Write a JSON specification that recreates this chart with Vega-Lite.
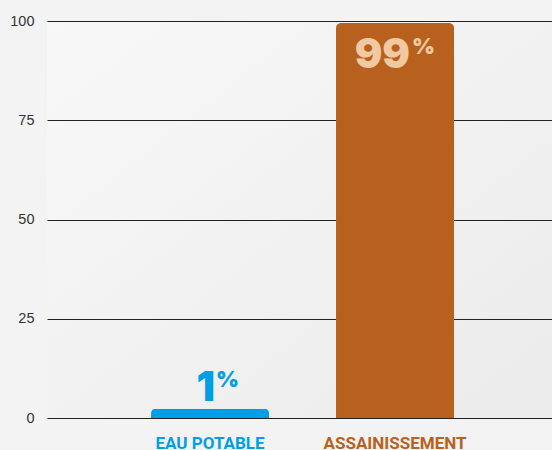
{
  "$schema": "https://vega.github.io/schema/vega-lite/v6.json",
  "width": 505,
  "height": 397,
  "autosize": {"type": "none"},
  "padding": {"left": 47, "top": 21, "right": 0, "bottom": 32},
  "background": "#f3f3f3",
  "config": {
    "view": {
      "stroke": null,
      "fill": {"gradient": "linear", "x1": 0, "y1": 0, "x2": 1, "y2": 1,
        "stops": [{"offset": 0, "color": "#f8f8f8"}, {"offset": 1, "color": "#ebebeb"}]}
    }
  },
  "data": {
    "values": [
      {"categorie": "EAU POTABLE", "valeur": 2.3, "nombre": "1"},
      {"categorie": "ASSAINISSEMENT", "valeur": 99.5, "nombre": "99"}
    ]
  },
  "encoding": {
    "x": {
      "field": "categorie", "type": "nominal", "sort": null,
      "scale": {"paddingInner": 0.362, "paddingOuter": 0.546, "align": 0.515},
      "axis": {
        "title": null, "labelAngle": 0, "ticks": false, "domain": false, "grid": false,
        "labelFont": "Roboto", "labelFontWeight": "bold", "labelFontSize": 17, "labelPadding": 17,
        "labelColor": {"condition": {"test": "datum.value == 'EAU POTABLE'", "value": "#009fe3"}, "value": "#b8611f"}
      }
    },
    "y": {
      "field": "valeur", "type": "quantitative",
      "scale": {"domain": [0, 100]},
      "axis": {
        "title": null, "values": [0, 25, 50, 75, 100], "grid": true, "gridColor": "#222222", "gridOpacity": 1,
        "domain": false, "ticks": false, "labelPadding": 13,
        "labelFont": "Liberation Sans", "labelFontSize": 14.5, "labelColor": "#333333"
      }
    }
  },
  "layer": [
    {
      "mark": {"type": "bar", "cornerRadiusTopLeft": 5, "cornerRadiusTopRight": 5},
      "encoding": {
        "color": {"field": "categorie", "type": "nominal",
          "scale": {"domain": ["EAU POTABLE", "ASSAINISSEMENT"], "range": ["#009fe3", "#b8611f"]},
          "legend": null}
      }
    },
    {
      "transform": [{"filter": "datum.categorie == 'EAU POTABLE'"}],
      "mark": {"type": "text", "align": "right", "baseline": "alphabetic", "dx": 5, "dy": -8,
        "font": "Inter", "fontWeight": 900, "fontSize": 41, "color": "#009fe3"},
      "encoding": {"text": {"field": "nombre"}}
    },
    {
      "transform": [{"filter": "datum.categorie == 'EAU POTABLE'"}],
      "mark": {"type": "text", "align": "left", "baseline": "alphabetic", "dx": 6, "dy": -22,
        "font": "Inter", "fontWeight": 900, "fontSize": 22, "color": "#009fe3"},
      "encoding": {"text": {"value": "%"}}
    },
    {
      "transform": [{"filter": "datum.categorie == 'ASSAINISSEMENT'"}],
      "mark": {"type": "text", "align": "right", "baseline": "alphabetic", "dx": 15, "dy": 45,
        "font": "Inter", "fontWeight": 900, "fontSize": 41, "color": "#f0c8a2"},
      "encoding": {"text": {"field": "nombre"}}
    },
    {
      "transform": [{"filter": "datum.categorie == 'ASSAINISSEMENT'"}],
      "mark": {"type": "text", "align": "left", "baseline": "alphabetic", "dx": 17, "dy": 31,
        "font": "Inter", "fontWeight": 900, "fontSize": 22, "color": "#f0c8a2"},
      "encoding": {"text": {"value": "%"}}
    }
  ]
}
